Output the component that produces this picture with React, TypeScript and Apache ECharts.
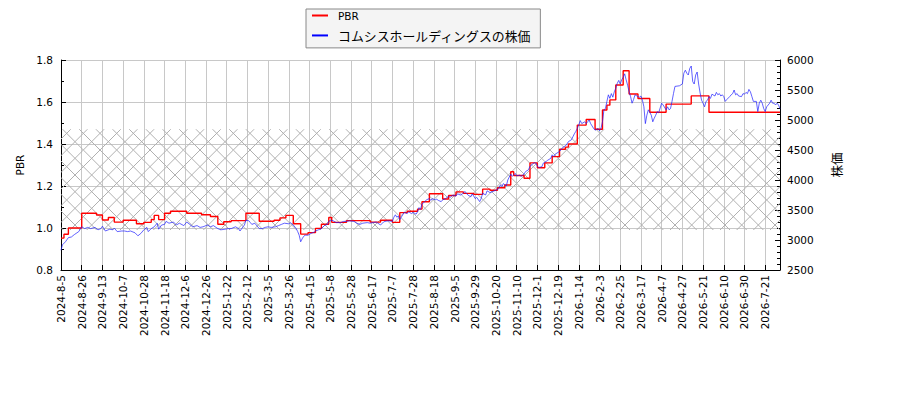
import { useEffect, useRef } from 'react'
import * as echarts from 'echarts'

// trading-day index of every tick is i * 14
const dateLabels = [
  '2024-8-5', '2024-8-26', '2024-9-13', '2024-10-7', '2024-10-28', '2024-11-18', '2024-12-6',
  '2024-12-26', '2025-1-22', '2025-2-12', '2025-3-5', '2025-3-26', '2025-4-15', '2025-5-8',
  '2025-5-28', '2025-6-17', '2025-7-7', '2025-7-28', '2025-8-18', '2025-9-5', '2025-9-29',
  '2025-10-20', '2025-11-10', '2025-12-1', '2025-12-19', '2026-1-14', '2026-2-3', '2026-2-25',
  '2026-3-17', '2026-4-7', '2026-4-27', '2026-5-21', '2026-6-10', '2026-6-30', '2026-7-21',
]
const lastIndex = 486

const priceName = 'コムシスホールディングスの株価'

// PBR, stepped: [trading-day index, value]
const pbrSteps: [number, number][] = [
  [0, 0.952], [2, 0.97], [5, 1.0], [14, 1.07], [24, 1.062], [28, 1.038], [32, 1.05], [36, 1.028],
  [42, 1.037], [51, 1.02], [56, 1.027], [61, 1.04], [63, 1.06], [66, 1.04], [70, 1.07], [74, 1.08],
  [85, 1.07], [95, 1.063], [101, 1.055], [106, 1.018], [110, 1.03], [115, 1.035], [125, 1.07],
  [134, 1.032], [144, 1.037], [148, 1.048], [152, 1.06], [157, 1.02], [162, 0.971], [167, 0.978],
  [172, 0.998], [176, 1.018], [181, 1.05], [183, 1.027], [193, 1.035], [209, 1.028], [216, 1.037],
  [224, 1.027], [229, 1.073], [234, 1.08], [241, 1.09], [244, 1.125], [249, 1.163], [258, 1.138],
  [262, 1.155], [267, 1.172], [272, 1.165], [279, 1.16], [285, 1.185], [290, 1.18], [295, 1.192],
  [300, 1.205], [304, 1.268], [306, 1.25], [313, 1.237], [317, 1.31], [322, 1.287], [327, 1.31],
  [332, 1.34], [337, 1.375], [341, 1.385], [343, 1.4], [349, 1.49], [355, 1.517], [361, 1.47],
  [366, 1.562], [369, 1.585], [371, 1.61], [375, 1.681], [380, 1.749], [384, 1.638], [390, 1.617],
  [398, 1.551], [409, 1.59], [426, 1.629], [438, 1.551], [486, 1.551],
]

// share price (right axis): [trading-day index, yen]
const priceSeries: [number, number][] = [
  [0, 2830], [1, 2920], [3, 2970], [5, 3040], [7, 3050], [9, 3090], [12, 3140], [14, 3220],
  [16, 3190], [18, 3210], [20, 3190], [23, 3210], [25, 3170], [27, 3190], [28, 3230], [30, 3150],
  [33, 3180], [35, 3170], [36, 3200], [38, 3140], [41, 3150], [43, 3150], [45, 3140], [47, 3150],
  [50, 3120], [52, 3070], [54, 3110], [56, 3170], [58, 3210], [59, 3140], [61, 3190], [63, 3220],
  [65, 3280], [66, 3180], [68, 3250], [70, 3260], [71, 3310], [73, 3280], [76, 3300], [78, 3250],
  [80, 3280], [83, 3240], [85, 3300], [87, 3260], [89, 3220], [92, 3240], [94, 3210], [96, 3220],
  [99, 3250], [101, 3220], [103, 3240], [106, 3190], [108, 3170], [111, 3180], [113, 3190],
  [115, 3190], [118, 3220], [120, 3190], [121, 3150], [123, 3220], [124, 3250], [125, 3330],
  [127, 3320], [128, 3290], [129, 3260], [131, 3280], [133, 3220], [134, 3190], [136, 3190],
  [138, 3210], [140, 3220], [142, 3210], [145, 3220], [147, 3240], [149, 3260], [151, 3280],
  [154, 3270], [155, 3290], [157, 3250], [159, 3190], [160, 3140], [161, 3080], [162, 2970],
  [163, 3020], [164, 3060], [165, 3080], [167, 3080], [169, 3110], [171, 3130], [172, 3150],
  [174, 3170], [176, 3190], [178, 3240], [180, 3260], [181, 3310], [183, 3330], [184, 3320],
  [186, 3290], [189, 3290], [191, 3310], [193, 3310], [195, 3320], [198, 3310], [200, 3280],
  [202, 3260], [204, 3280], [207, 3290], [209, 3280], [211, 3290], [213, 3300], [216, 3250],
  [218, 3300], [219, 3310], [221, 3320], [224, 3310], [225, 3380], [226, 3420], [227, 3380],
  [228, 3400], [229, 3340], [231, 3420], [232, 3460], [234, 3440], [235, 3470], [237, 3440],
  [238, 3460], [240, 3430], [241, 3470], [242, 3540], [243, 3510], [244, 3600], [246, 3640],
  [247, 3670], [249, 3690], [250, 3660], [251, 3690], [253, 3670], [254, 3680], [255, 3660],
  [257, 3640], [258, 3670], [260, 3690], [262, 3730], [263, 3710], [265, 3750], [267, 3730],
  [268, 3770], [270, 3750], [272, 3780], [273, 3810], [275, 3750], [277, 3720], [278, 3770],
  [280, 3690], [281, 3710], [283, 3640], [284, 3690], [285, 3780], [287, 3750], [288, 3820],
  [290, 3790], [292, 3810], [294, 3830], [296, 3860], [297, 3920], [298, 3890], [299, 3940],
  [301, 3900], [302, 4000], [304, 4100], [305, 4060], [307, 4110], [308, 4070], [310, 4080],
  [311, 4060], [313, 4100], [314, 4140], [316, 4170], [317, 4230], [319, 4270], [320, 4290],
  [321, 4280], [322, 4230], [323, 4210], [325, 4220], [326, 4280], [328, 4310], [329, 4330],
  [331, 4360], [332, 4420], [333, 4390], [334, 4430], [336, 4460], [338, 4500], [339, 4540],
  [341, 4570], [342, 4600], [343, 4640], [345, 4670], [346, 4720], [347, 4770], [348, 4810],
  [349, 4860], [350, 4920], [351, 4990], [352, 4940], [354, 4970], [355, 4940], [356, 4970],
  [357, 5000], [358, 4940], [359, 4900], [360, 4860], [361, 4830], [363, 4860], [364, 4820],
  [365, 4860], [366, 4970], [367, 5170], [368, 5190], [369, 5310], [370, 5420], [371, 5360],
  [372, 5440], [373, 5380], [374, 5470], [375, 5530], [376, 5610], [377, 5660], [378, 5600],
  [379, 5670], [380, 5710], [381, 5770], [382, 5670], [383, 5580], [384, 5470], [385, 5390],
  [386, 5280], [387, 5340], [388, 5420], [390, 5390], [391, 5380], [392, 5400], [393, 5330],
  [394, 5220], [395, 4940], [396, 5080], [397, 5170], [399, 5080], [400, 4970], [401, 5030],
  [402, 5080], [403, 5140], [404, 5120], [405, 5200], [406, 5280], [407, 5250], [409, 5170],
  [410, 5220], [411, 5170], [412, 5190], [413, 5310], [414, 5440], [415, 5560], [418, 5570],
  [420, 5600], [421, 5780], [422, 5830], [423, 5780], [424, 5750], [425, 5860], [426, 5900],
  [427, 5640], [428, 5600], [429, 5750], [430, 5800], [431, 5600], [432, 5450], [433, 5330],
  [434, 5280], [435, 5220], [436, 5310], [437, 5330], [438, 5390], [439, 5360], [440, 5430],
  [442, 5400], [443, 5460], [444, 5420], [445, 5440], [446, 5400], [447, 5420], [448, 5390],
  [449, 5310], [450, 5340], [452, 5390], [453, 5420], [454, 5440], [455, 5500], [456, 5420],
  [457, 5440], [458, 5400], [460, 5390], [461, 5440], [462, 5430], [463, 5460], [464, 5440],
  [465, 5510], [466, 5470], [467, 5390], [468, 5310], [470, 5310], [471, 5140], [472, 5280],
  [473, 5330], [474, 5280], [475, 5190], [476, 5140], [477, 5220], [479, 5280], [480, 5330],
  [481, 5280], [482, 5280], [483, 5250], [484, 5280], [485, 5250], [486, 5190],
]

// hatched PBR band
const bandLow = 0.99
const bandHigh = 1.47

function hatchImage(): string {
  const c = document.createElement('canvas')
  c.width = 50
  c.height = 50
  const g = c.getContext('2d')!
  g.strokeStyle = '#b0b0b0'
  g.lineWidth = 1
  const p = 50 / 3
  g.beginPath()
  for (let k = -3; k <= 3; k++) {
    g.moveTo(k * p, 0)
    g.lineTo(k * p + 50, 50)
    g.moveTo(k * p, 50)
    g.lineTo(k * p + 50, 0)
  }
  g.stroke()
  return c.toDataURL()
}

const tickFont = { fontFamily: 'DejaVu Sans', fontSize: 10.5, color: '#000' }

export default function App() {
  const rootRef = useRef<HTMLDivElement | null>(null)
  useEffect(() => {
    if (!rootRef.current) return
    const chart = echarts.init(rootRef.current, null, { renderer: 'svg' })
    chart.setOption({
      animation: false,
      textStyle: { fontFamily: 'DejaVu Sans' },
      legend: {
        orient: 'vertical',
        left: 306,
        top: 9,
        padding: [1, 9, 6, 6],
        itemGap: 8,
        itemWidth: 16,
        itemHeight: 2,
        backgroundColor: '#f4f4f4',
        borderColor: '#888',
        borderWidth: 1,
        borderRadius: 0,
        data: [{ name: 'PBR', icon: 'rect' }, { name: priceName, icon: 'rect' }],
        formatter: (n: string) => (n === 'PBR' ? '{p|PBR}' : `{j|${n}}`),
        textStyle: {
          padding: [0, 0, 0, 5],
          rich: {
            p: { fontFamily: 'DejaVu Sans', fontSize: 10.5, lineHeight: 12, color: '#000' },
            j: { fontFamily: 'Noto Sans CJK JP', fontSize: 12.9, lineHeight: 12, color: '#000' },
          },
        },
      },
      grid: { left: 61, right: 120, top: 60, bottom: 130 },
      xAxis: {
        type: 'value',
        min: 0,
        max: lastIndex,
        interval: 14,
        axisLine: { show: true, onZero: false, lineStyle: { color: '#000', width: 1 } },
        axisTick: { show: true, inside: true, length: 5, lineStyle: { color: '#000' } },
        axisLabel: {
          ...tickFont,
          rotate: 90,
          margin: 5,
          formatter: (v: number) => (v % 14 === 0 ? dateLabels[v / 14] ?? '' : ''),
        },
        splitLine: { show: true, lineStyle: { color: '#c8c8c8', width: 1 } },
      },
      yAxis: [
        {
          type: 'value',
          min: 0.8,
          max: 1.8,
          interval: 0.2,
          name: 'PBR',
          nameLocation: 'middle',
          nameRotate: 90,
          nameGap: 36,
          nameTextStyle: { fontFamily: 'DejaVu Sans', fontSize: 10.5, color: '#000' },
          axisLine: { show: true, onZero: false, lineStyle: { color: '#000', width: 1 } },
          axisTick: { show: true, inside: true, length: 5, lineStyle: { color: '#000' } },
          minorTick: { show: true, splitNumber: 2, length: 3, lineStyle: { color: '#000' } },
          axisLabel: { ...tickFont, margin: 8, formatter: (v: number) => v.toFixed(1) },
          splitLine: { show: true, lineStyle: { color: '#c8c8c8', width: 1 } },
        },
        {
          type: 'value',
          position: 'right',
          min: 2500,
          max: 6000,
          interval: 500,
          name: '株価',
          nameLocation: 'middle',
          nameRotate: 90,
          nameGap: 50,
          nameTextStyle: { fontFamily: 'Noto Sans CJK JP', fontSize: 12.5, color: '#000' },
          axisLine: { show: true, onZero: false, lineStyle: { color: '#000', width: 1 } },
          axisTick: { show: true, inside: true, length: 5, lineStyle: { color: '#000' } },
          minorTick: { show: true, splitNumber: 5, length: 3, lineStyle: { color: '#000' } },
          axisLabel: { ...tickFont, margin: 7, formatter: (v: number) => String(v) },
          splitLine: { show: false },
        },
      ],
      series: [
        {
          name: 'PBR',
          type: 'line',
          step: 'end',
          yAxisIndex: 0,
          data: pbrSteps,
          symbol: 'none',
          color: '#ff0000',
          lineStyle: { color: '#ff0000', width: 1.4 },
          markArea: {
            silent: true,
            itemStyle: {
              color: { image: hatchImage(), repeat: 'repeat', imageWidth: 50, imageHeight: 50 },
            },
            data: [[{ yAxis: bandLow }, { yAxis: bandHigh }]],
          },
          z: 2,
        },
        {
          name: priceName,
          type: 'line',
          yAxisIndex: 1,
          data: priceSeries,
          symbol: 'none',
          color: '#0000ff',
          lineStyle: { color: '#2020ff', width: 0.7 },
          z: 3,
        },
      ],
    })
    return () => chart.dispose()
  }, [])

  return (
    <div
      ref={rootRef}
      style={{ position: 'fixed', left: 0, top: 0, width: 900, height: 400, background: '#fff' }}
    />
  )
}
